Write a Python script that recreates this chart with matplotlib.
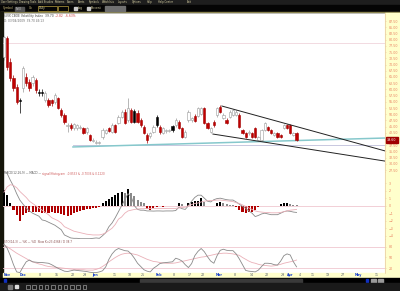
import numpy as np
import matplotlib
matplotlib.use('Agg')
import matplotlib.pyplot as plt
from matplotlib.patches import Rectangle

# $VIX daily candles, Nov 2008 - Apr 2009
opens = [73.1, 80.7, 71.0, 64.6, 61.0, 55.3, 60.6, 65.0, 63.0, 62.6, 63.8, 58.6, 58.6, 55.7, 55.7,
         55.7, 54.9, 56.5, 51.7, 49.7, 45.3, 45.7, 44.4, 44.4, 44.6, 44.4, 42.8, 41.6, 39.2, 38.4,
         38.4, 40.8, 42.4, 44.4, 42.8, 45.6, 46.5, 48.9, 50.9, 47.7, 51.7, 46.9, 50.5, 47.7, 44.8,
         41.6, 41.2, 42.8, 45.6, 44.8, 42.4, 43.6, 43.6, 43.6, 45.6, 46.9, 44.4, 40.8, 47.7, 47.7,
         49.3, 49.3, 50.0, 52.5, 46.5, 42.8, 46.9, 49.7, 52.9, 48.5, 47.7, 48.9, 49.7, 49.7, 49.7,
         43.6, 42.4, 42.4, 42.4, 44.4, 39.6, 39.6, 43.6, 44.8, 43.6, 41.6, 42.4, 41.6, 44.4, 45.6,
         45.6, 41.6, 42.4]
closes = [81.1, 69.0, 64.6, 60.6, 54.9, 55.7, 68.6, 62.6, 60.6, 65.0, 59.8, 59.0, 59.0, 58.6, 53.7,
          54.5, 57.8, 52.5, 49.7, 46.9, 45.7, 44.4, 46.0, 45.6, 44.9, 42.4, 44.4, 39.6, 39.6, 38.8,
          38.6, 43.6, 43.6, 43.2, 45.6, 42.8, 48.9, 50.9, 46.5, 52.5, 46.9, 51.3, 46.9, 45.6, 42.4,
          39.6, 42.4, 44.8, 48.9, 42.8, 44.4, 43.2, 43.4, 45.2, 47.7, 44.4, 40.8, 42.8, 50.9, 48.5,
          47.3, 52.5, 52.5, 46.5, 44.4, 44.4, 45.6, 52.5, 50.9, 49.7, 46.5, 50.9, 51.7, 50.9, 44.8,
          42.4, 40.8, 42.8, 40.8, 40.8, 40.8, 43.6, 46.5, 43.6, 42.4, 42.4, 40.8, 40.8, 45.6, 44.4,
          42.4, 42.4, 39.6]
highs = [81.5, 81.5, 72.5, 66.0, 62.0, 56.5, 69.5, 66.5, 64.0, 66.0, 64.5, 60.0, 60.0, 59.5, 56.5,
         56.0, 58.5, 57.0, 52.5, 50.5, 46.5, 46.5, 46.5, 46.0, 45.5, 45.0, 45.0, 42.0, 40.5, 39.5,
         39.0, 44.5, 44.0, 45.0, 46.5, 46.0, 49.5, 51.5, 52.0, 56.5, 52.5, 52.0, 51.5, 48.5, 45.5,
         42.5, 43.0, 45.5, 49.5, 45.5, 45.0, 44.2, 44.2, 45.8, 48.5, 47.5, 45.0, 43.5, 51.5, 49.0,
         50.0, 53.0, 53.0, 53.0, 47.0, 45.0, 47.5, 53.0, 53.7, 50.5, 48.5, 51.5, 52.0, 51.5, 50.5,
         44.0, 43.0, 43.5, 43.0, 45.0, 41.2, 44.0, 47.0, 45.2, 44.0, 42.8, 42.8, 42.0, 46.0, 46.0,
         46.0, 42.8, 42.8]
lows = [72.0, 68.0, 63.5, 59.5, 54.0, 50.5, 59.0, 61.5, 59.5, 61.5, 58.5, 57.5, 57.5, 55.0, 53.0,
        53.5, 54.0, 52.0, 49.0, 46.0, 43.0, 43.5, 43.5, 43.5, 44.0, 42.0, 42.0, 39.0, 38.8, 38.0,
        37.9, 40.0, 42.0, 42.8, 42.4, 42.4, 46.0, 48.5, 46.0, 47.0, 46.5, 46.5, 46.5, 45.0, 42.0,
        38.4, 40.5, 42.4, 45.0, 42.0, 42.0, 42.5, 42.8, 43.0, 45.0, 44.0, 40.4, 40.4, 47.0, 47.0,
        46.8, 49.0, 49.5, 46.0, 44.0, 42.4, 45.0, 49.0, 50.5, 48.0, 46.0, 48.5, 49.3, 49.3, 44.4,
        42.0, 40.4, 41.6, 40.4, 40.4, 39.2, 39.2, 43.2, 43.2, 42.0, 41.2, 40.4, 40.4, 44.0, 44.0,
        42.0, 41.2, 39.2]
candle_col = list('wrrrrkwrrwrkkwrrwrrrwrwwwrwrwww'
                  'wwrwrwwrwrkrrrrwwkrwwwkwrrwwwr'
                  'wwrrwrwrwrwwwrrrwrrwwwrrwrrwrrwr')

# MACD(12,26,9)
macd_hist = [2.1, 1.4, 0.3, -0.6, -1.2, -2.1, -1.2, -1.0, -0.9, -0.9, -0.9, -0.9, -1.0, -1.0, -1.0,
             -0.9, -0.95, -1.0, -1.15, -1.25, -1.33, -1.25, -1.0, -0.8, -0.67, -0.58, -0.5, -0.45,
             -0.36, -0.3, -0.22, 0.3, 0.67, 0.9, 1.2, 1.4, 1.65, 1.87, 1.65, 2.2, 1.65, 1.33, 0.76,
             0.45, 0.3, -0.5, -0.58, -0.36, -0.13, -0.04, -0.13, -0.05, -0.05, -0.04, -0.04, 0.3,
             0.22, 0.02, 0.4, 0.53, 0.62, 0.67, 0.98, 0.53, -0.04, -0.09, -0.09, 0.3, 0.45, 0.3, 0.18,
             0.13, 0.04, -0.22, -0.58, -0.89, -1.02, -0.8, -0.89, -0.58, -0.13, -0.03, -0.02, -0.02,
             -0.02, -0.09, -0.09, 0.22, 0.3, 0.4, 0.18, 0.13, 0.04]
macd_line = [5.5, 4.3, 3.4, 2.6, 1.6, 0.75, 0.2, -0.3, -0.7, -1.0, -1.2, -1.4, -1.9, -2.0, -2.2,
             -2.4, -2.6, -2.9, -3.2, -3.9, -4.1, -4.3, -4.35, -4.35, -4.4, -4.4, -4.4, -4.4, -4.35,
             -4.3, -4.35, -4.0, -3.6, -2.8, -2.3, -1.6, -0.8, 0.0, 0.8, 1.6, 1.2, 0.0, -0.5, -0.6,
             -0.6, -0.7, -0.7, -0.72, -0.7, -0.7, -0.72, -0.7, -0.7, -0.7, -0.65, -0.2, -0.4, -0.5,
             0.0, 0.6, 1.1, 1.4, 1.4, 1.0, 0.6, 0.5, 0.8, 0.95, 1.0, 0.9, 0.8, 0.75, 0.75, 0.5, 0.2,
             -0.1, -0.35, -0.7, -1.0, -1.45, -1.3, -1.1, -1.0, -1.1, -1.2, -1.2, -1.2, -1.0, -0.8,
             -0.7, -0.75, -0.85, -0.9]
macd_signal = [1.8, 2.5, 2.8, 2.7, 2.4, 1.9, 1.5, 1.1, 0.6, 0.3, 0.0, -0.3, -0.6, -0.9, -1.2, -1.6,
               -1.8, -2.0, -2.3, -2.8, -3.0, -3.2, -3.4, -3.5, -3.6, -3.7, -3.8, -3.85, -3.9, -3.9,
               -3.9, -3.8, -3.6, -3.3, -3.0, -2.5, -1.8, -1.5, -1.0, -0.7, -0.6, -0.5, -0.45, -0.4,
               -0.4, -0.36, -0.36, -0.36, -0.36, -0.36, -0.36, -0.36, -0.36, -0.36, -0.36, -0.3,
               -0.25, -0.2, 0.0, 0.15, 0.3, 0.35, 0.5, 0.6, 0.65, 0.7, 0.7, 0.75, 0.75, 0.7, 0.65,
               0.6, 0.55, 0.4, 0.3, 0.1, -0.1, -0.3, -0.5, -0.7, -0.8, -0.85, -0.9, -0.9, -0.95,
               -0.95, -0.95, -0.9, -0.8, -0.7, -0.6, -0.55, -0.5]

# Slow stochastic
sto_k = [87, 76, 55, 30, 10, 8, 24, 38, 43, 38, 37, 36, 36, 35, 34, 30, 25, 20, 16, 12, 11, 13, 15,
         14, 13, 12, 11, 9, 8, 8, 10, 13, 24, 45, 60, 70, 75, 72, 69, 68, 60, 48, 34, 25, 16, 12,
         10, 20, 26, 33, 35, 36, 37, 38, 48, 45, 40, 30, 22, 33, 55, 67, 75, 66, 52, 40, 34, 55,
         70, 73, 70, 69, 69, 60, 46, 30, 14, 12, 11, 10, 15, 25, 34, 34, 33, 30, 29, 40, 55, 60,
         57, 38, 24]
sto_d = [85, 80, 74, 68, 62, 57, 52, 47, 42, 38, 35, 32, 30, 27, 25, 24, 23, 22, 21, 20, 19, 18,
         17, 17, 16, 16, 15, 15, 15, 17, 20, 25, 31, 38, 44, 50, 55, 59, 61, 62, 61, 59, 57, 53,
         49, 45, 42, 39, 38, 36, 35, 34, 34, 34, 35, 37, 39, 41, 43, 45, 47, 49, 51, 52, 54, 56,
         58, 60, 61, 62, 62, 61, 60, 58, 56, 50, 45, 40, 36, 34, 31, 29, 28, 27, 26, 27, 29, 31,
         34, 36, 38, 40, 43]

# date axis labels and their bar positions
date_pos = [0.9, 6.0, 11.3, 16.7, 21.7, 25.5, 28.6, 34.9, 39.6, 43.7, 48.7, 53.5, 58.5, 62.6,
            67.6, 72.6, 78.0, 82.7, 87.7, 89.9, 93.1, 97.2, 101.9, 106.6, 111.3, 117.3]
date_lbl = ['Nov', 'Dec', '8', '15', '22', '29', 'Jan', '11', '18', '25', 'Feb', '8', '17', '22',
            'Mar', '8', '14', '22', '29', 'Apr', '4', '11', '19', '27', 'May', '11']

# drawn lines: (x0, y0, x1, y1) in bar / price units
upper_trend = (68.5, 53.3, 119.8, 35.2)
lower_trend = (65.7, 42.0, 119.8, 31.1)
support_line = (21.7, 36.8, 119.8, 40.4)
flat_line = 37.6
top_line = 78.7

W, H = 400, 291
XMIN, XMAX = -0.3, 119.8
fig = plt.figure(figsize=(W / 100, H / 100), dpi=100)


def box(x, y, w, h):
    return [x / W, 1 - (y + h) / H, w / W, h / H]


# chrome in pixel units
bg = fig.add_axes([0, 0, 1, 1])
bg.set_xlim(0, W)
bg.set_ylim(H, 0)
bg.axis('off')
bg.add_patch(Rectangle((0, 0), W, H, color='white'))
bg.add_patch(Rectangle((0, 0), W, 5, color='#1e1e1e'))
bg.add_patch(Rectangle((0, 5), W, 7, color='#050505'))
bg.add_patch(Rectangle((0, 11.6), W, 0.8, color='#8a8450'))
bg.add_patch(Rectangle((0, 12), 3, 266, color='#15150a'))
bg.add_patch(Rectangle((385, 12.5), 15, 265.5, color='#ffffcc'))
bg.add_patch(Rectangle((3, 272.5), 382, 5.5, color='#ffffcc'))
bg.add_patch(Rectangle((0, 278), W, 5, color='#000000'))
bg.add_patch(Rectangle((140, 278.5), 162, 4, color='#3a3a3a'))
bg.add_patch(Rectangle((4, 279), 2, 2.5, color='#1030c0'))
bg.add_patch(Rectangle((366, 279), 2, 2.5, color='#1030c0'))
bg.add_patch(Rectangle((371, 278.5), 5, 4, color='#9a9a9a'))
bg.add_patch(Rectangle((378, 278.5), 5, 4, color='#9a9a9a'))
bg.add_patch(Rectangle((0, 283), W, 8, color='#1a1a1a'))
for i in range(10):
    bg.add_patch(Rectangle((26 + i * 6.3, 285), 3.5, 3.5, fill=False, ec='#bbbbbb', lw=0.4))
bg.add_patch(Rectangle((8, 285), 4, 4, color='#777777'))
bg.add_patch(Rectangle((15, 285), 3, 3, color='#dddddd'))

menu = ['User Settings', 'Drawing Tools', 'Add Studies', 'Patterns', 'Scans', 'Alerts',
        'Symbols', 'Watchlists', 'Layouts', 'Options', 'Help', 'Help Center', 'Exit']
mx = [1, 19, 38, 55, 67, 78, 89, 102, 118, 132, 147, 158, 187]
for t, xx in zip(menu, mx):
    bg.text(xx, 2.3, t, fontsize=1.8, color='#e0d8a8', va='center')
bg.text(3, 8.4, 'Symbol', fontsize=2.1, color='#d0c080', va='center')
bg.add_patch(Rectangle((15, 6.5), 9, 4, color='#555555'))
bg.text(16, 8.4, '$VIX', fontsize=1.9, color='#cccccc', va='center')
bg.text(29, 8.4, 'Go', fontsize=2.1, color='#d0c080', va='center')
bg.add_patch(Rectangle((38, 6.3), 19, 4.4, fill=False, ec='#b8a040', lw=0.5))
bg.text(39, 8.4, 'Daily', fontsize=2.0, color='#e0d8a8', va='center')
bg.add_patch(Rectangle((58, 6.3), 10, 4.4, fill=False, ec='#b8a040', lw=0.5))
bg.add_patch(Rectangle((74, 7), 3, 3, color='#cccccc'))
bg.text(78, 8.4, 'Log', fontsize=2.1, color='#e0d8a8', va='center')
bg.add_patch(Rectangle((87, 7), 3, 3, color='#cccccc'))
bg.text(91, 8.4, 'Percent', fontsize=2.1, color='#e0d8a8', va='center')
bg.add_patch(Rectangle((105, 6.3), 20, 4.4, color='#707070'))

bg.text(4, 16, '$VIX CBOE Volatility Index  39.70', fontsize=2.2, color='#444444', va='center')
bg.text(55, 16, '-2.82  -6.63%', fontsize=2.2, color='#d04040', va='center')
bg.text(4, 20.5, 'D: 03/04/2009  39.70 49.13', fontsize=2.1, color='#666666', va='center')
bg.text(4, 173.5, 'MACD(12,26,9) \u2014 MACD \u2014', fontsize=2.0, color='#555555', va='center')
bg.text(42, 173.5, 'signal/Histogram  -0.8533 & -0.7036 & 0.1220', fontsize=2.0,
        color='#d06060', va='center')
bg.text(4, 242, 'STO(14,3) \u2014 %K \u2014 %D  Slow K=23.4368 / D 38.7', fontsize=2.0,
        color='#8a5050', va='center')

# main candlestick panel
x = np.arange(len(opens))
o = np.array(opens)
c = np.array(closes)
fill = {'w': 'white', 'r': '#c00000', 'k': '#000000'}
edge = {'w': '#9a9a9a', 'r': '#a00000', 'k': '#000000'}

ax = fig.add_axes(box(3, 13, 382, 159))
ax.patch.set_alpha(0)
wick_col = [edge[k] for k in candle_col]
ax.vlines(x, lows, highs, colors=wick_col, lw=0.5, zorder=2)
body = np.where(np.abs(c - o) < 0.35, 0.35, np.abs(c - o))
ax.bar(x, body, bottom=np.minimum(o, c), width=0.7,
       color=[fill[k] for k in candle_col], edgecolor=[edge[k] for k in candle_col],
       lw=0.4, zorder=3)
ax.axhline(top_line, color='#f0d4dc', lw=0.6, zorder=1)
ax.plot([support_line[0], XMAX], [flat_line, flat_line], color='#c8c8e0', lw=0.7, zorder=1)
ax.plot(support_line[::2], support_line[1::2], color='#86c8cc', lw=1.1, zorder=1)
ax.plot(upper_trend[::2], upper_trend[1::2], color='#222222', lw=0.7, zorder=4)
ax.plot(lower_trend[::2], lower_trend[1::2], color='#222222', lw=0.7, zorder=4)
ax.set_xlim(XMIN, XMAX)
ax.set_ylim(26.7, 90.8)
price_ticks = np.arange(27.5, 88, 2.5)
ax.set_yticks(price_ticks)
ax.set_yticklabels(['%.2f' % v for v in price_ticks])

# MACD panel
axm = fig.add_axes(box(3, 172, 382, 67))
axm.patch.set_alpha(0)
hist = np.array(macd_hist)
hcol = []
for i, v in enumerate(hist):
    if v < 0:
        hcol.append('#b00000')
    elif i > 30 and v < hist[i - 1]:
        hcol.append('#8a8a8a')
    else:
        hcol.append('#000000')
axm.bar(x, hist, width=0.65, color=hcol, zorder=2)
axm.axhline(0, color='#f0c8d0', lw=0.6, zorder=1)
axm.plot(x, macd_line, color='#8a8a8a', lw=0.6, zorder=3)
axm.plot(x, macd_signal, color='#eab0b8', lw=0.6, zorder=3)
axm.set_xlim(XMIN, XMAX)
axm.set_ylim(-4.44, 4.49)
axm.set_yticks(range(-4, 4))

# stochastic panel
axs = fig.add_axes(box(3, 239, 382, 34))
axs.patch.set_alpha(0)
axs.axhline(80, color='#f0c8d0', lw=0.6)
axs.axhline(20, color='#f0c8d0', lw=0.6)
axs.plot(x, sto_d, color='#eab0b8', lw=0.6)
axs.plot(x, sto_k, color='#8a8a8a', lw=0.6)
axs.set_xlim(XMIN, XMAX)
axs.set_ylim(6.9, 101.4)
axs.set_yticks([20, 50, 80])

for a in (ax, axm, axs):
    for s in ('top', 'left', 'bottom'):
        a.spines[s].set_visible(False)
    a.spines['right'].set_color('#e8c8a0')
    a.spines['right'].set_linewidth(0.5)
    a.set_xticks([])
    a.yaxis.tick_right()
    a.tick_params(axis='y', length=1, width=0.4, color='#e8c8a0', pad=1.5,
                  labelsize=2.3, labelcolor='#e88060')

# date strip
axd = fig.add_axes(box(3, 272.5, 382, 5.5))
axd.axis('off')
axd.set_xlim(XMIN, XMAX)
axd.set_ylim(0, 1)
for p, t in zip(date_pos, date_lbl):
    is_month = t.isalpha()
    axd.text(p, 0.5, t, fontsize=2.3, ha='center', va='center',
             color='#1840d0' if is_month else '#556070',
             fontweight='bold' if is_month else 'normal')

# last price marker on the price scale, drawn over the tick labels
yfrac = ax.transLimits.transform((0, closes[-1]))[1]
ypix = 13 + 159 * (1 - yfrac)
fig.add_artist(Rectangle((385.5 / W, 1 - (ypix + 2.6) / H), 12.5 / W, 5.2 / H,
                         transform=fig.transFigure, color='#a00000', zorder=5))
fig.text(387 / W, 1 - ypix / H, '%.2f' % closes[-1], fontsize=2.3, color='white',
         va='center', ha='left', zorder=6)

fig.savefig('out.png', dpi=100)
